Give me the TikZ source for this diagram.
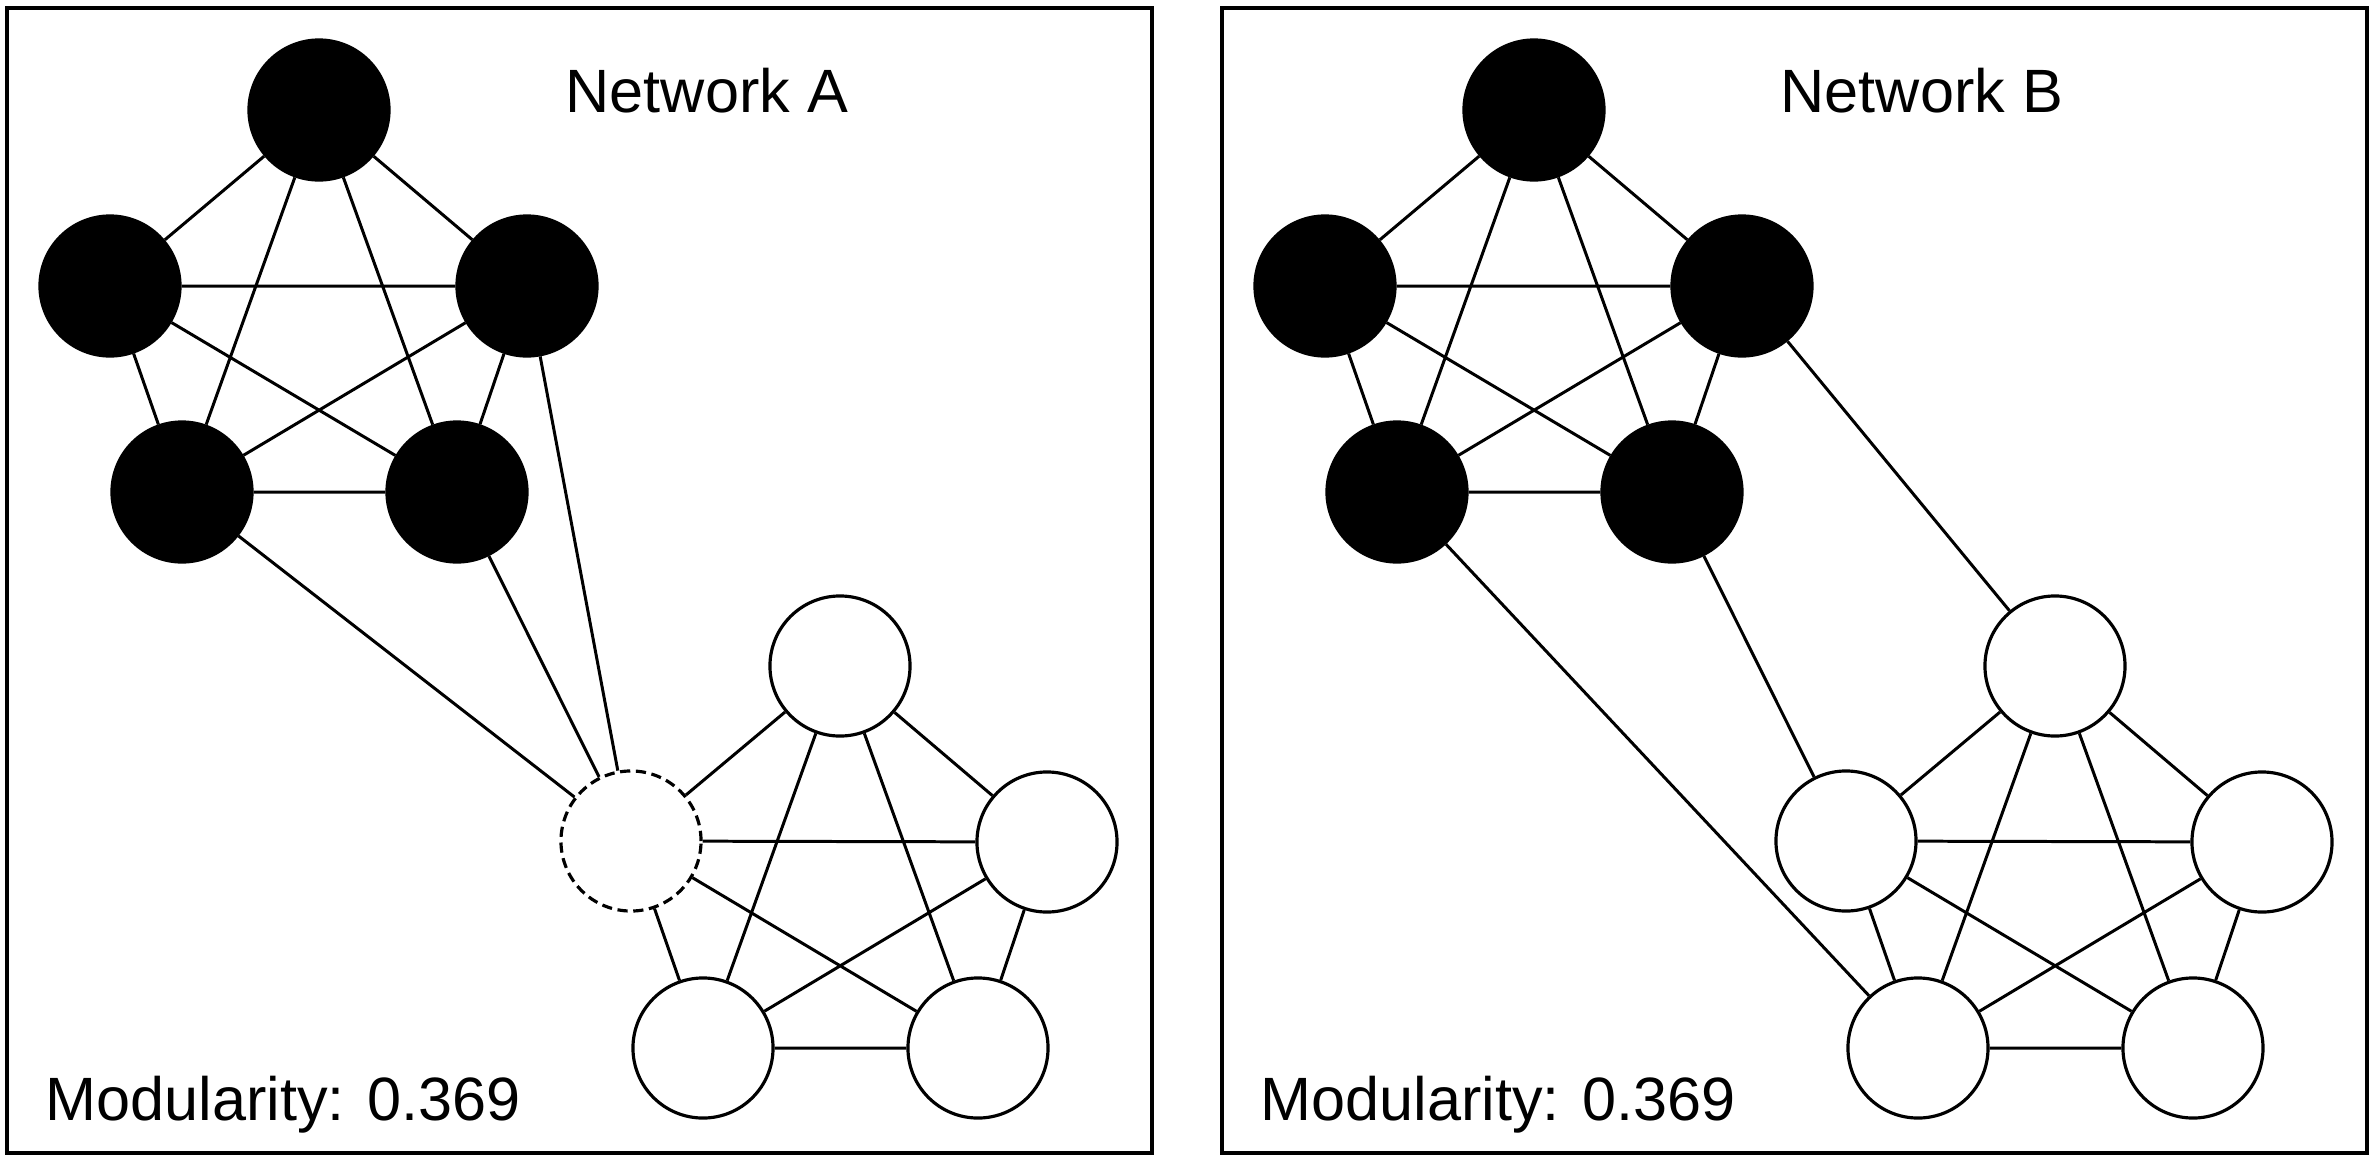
\documentclass[tikz,border=0pt]{standalone}
\usepackage{fontspec}
\setsansfont{Liberation Sans}
\usetikzlibrary{positioning}
\tikzset{vtx/.style={circle,draw=black,line width=0.9pt,minimum size=1.4cm,inner sep=0pt},
 full/.style={vtx,fill=black},empty/.style={vtx,fill=white},
 gone/.style={vtx,fill=white,dash pattern=on 2.9pt off 1.6pt},
 edge/.style={line width=0.85pt,draw=black},
 panel/.style={draw=black,line width=1pt},
 lbl/.style={font=\sffamily\fontsize{17.4}{20}\selectfont,inner sep=0pt,anchor=base west}}

\begin{document}
\begin{tikzpicture}[x=0.01cm,y=-0.01cm]
\useasboundingbox (0,0) rectangle (2374,1160);
\draw[panel] (7,8) rectangle (1152,1153);
\draw[panel] (1222,8) rectangle (2367,1153);
% Network A
\node[lbl] (titA) at (565,112) {Network A};
\node[lbl] (modA) at (45,1120) {Modularity: 0.369};
\node[full] (ab1) at (319,110) {};
\node[full] (ab2) at (110,286) {};
\node[full] (ab3) at (527,286) {};
\node[full] (ab4) at (182,492) {};
\node[full] (ab5) at (457,492) {};
\node[empty] (aw1) at (840,666) {};
\node[gone] (aw2) at (631,841) {};
\node[empty] (aw3) at (1047,842) {};
\node[empty] (aw4) at (703,1048) {};
\node[empty] (aw5) at (978,1048) {};
\draw[edge] (ab1)--(ab2) (ab1)--(ab3) (ab1)--(ab4) (ab1)--(ab5) (ab2)--(ab3)
 (ab2)--(ab4) (ab2)--(ab5) (ab3)--(ab4) (ab3)--(ab5) (ab4)--(ab5);
\draw[edge] (aw1)--(aw2) (aw1)--(aw3) (aw1)--(aw4) (aw1)--(aw5) (aw2)--(aw3)
 (aw2)--(aw4) (aw2)--(aw5) (aw3)--(aw4) (aw3)--(aw5) (aw4)--(aw5);
\draw[edge] (ab4)--(aw2) (ab5)--(aw2) (ab3)--(aw2);
% Network B
\node[lbl] (titB) at (1780,112) {Network B};
\node[lbl] (modB) at (1260,1120) {Modularity: 0.369};
\node[full] (bb1) at (1534,110) {};
\node[full] (bb2) at (1325,286) {};
\node[full] (bb3) at (1742,286) {};
\node[full] (bb4) at (1397,492) {};
\node[full] (bb5) at (1672,492) {};
\node[empty] (bw1) at (2055,666) {};
\node[empty] (bw2) at (1846,841) {};
\node[empty] (bw3) at (2262,842) {};
\node[empty] (bw4) at (1918,1048) {};
\node[empty] (bw5) at (2193,1048) {};
\draw[edge] (bb1)--(bb2) (bb1)--(bb3) (bb1)--(bb4) (bb1)--(bb5) (bb2)--(bb3)
 (bb2)--(bb4) (bb2)--(bb5) (bb3)--(bb4) (bb3)--(bb5) (bb4)--(bb5);
\draw[edge] (bw1)--(bw2) (bw1)--(bw3) (bw1)--(bw4) (bw1)--(bw5) (bw2)--(bw3)
 (bw2)--(bw4) (bw2)--(bw5) (bw3)--(bw4) (bw3)--(bw5) (bw4)--(bw5);
\draw[edge] (bb3)--(bw1) (bb5)--(bw2) (bb4)--(bw4);
\end{tikzpicture}
\end{document}
